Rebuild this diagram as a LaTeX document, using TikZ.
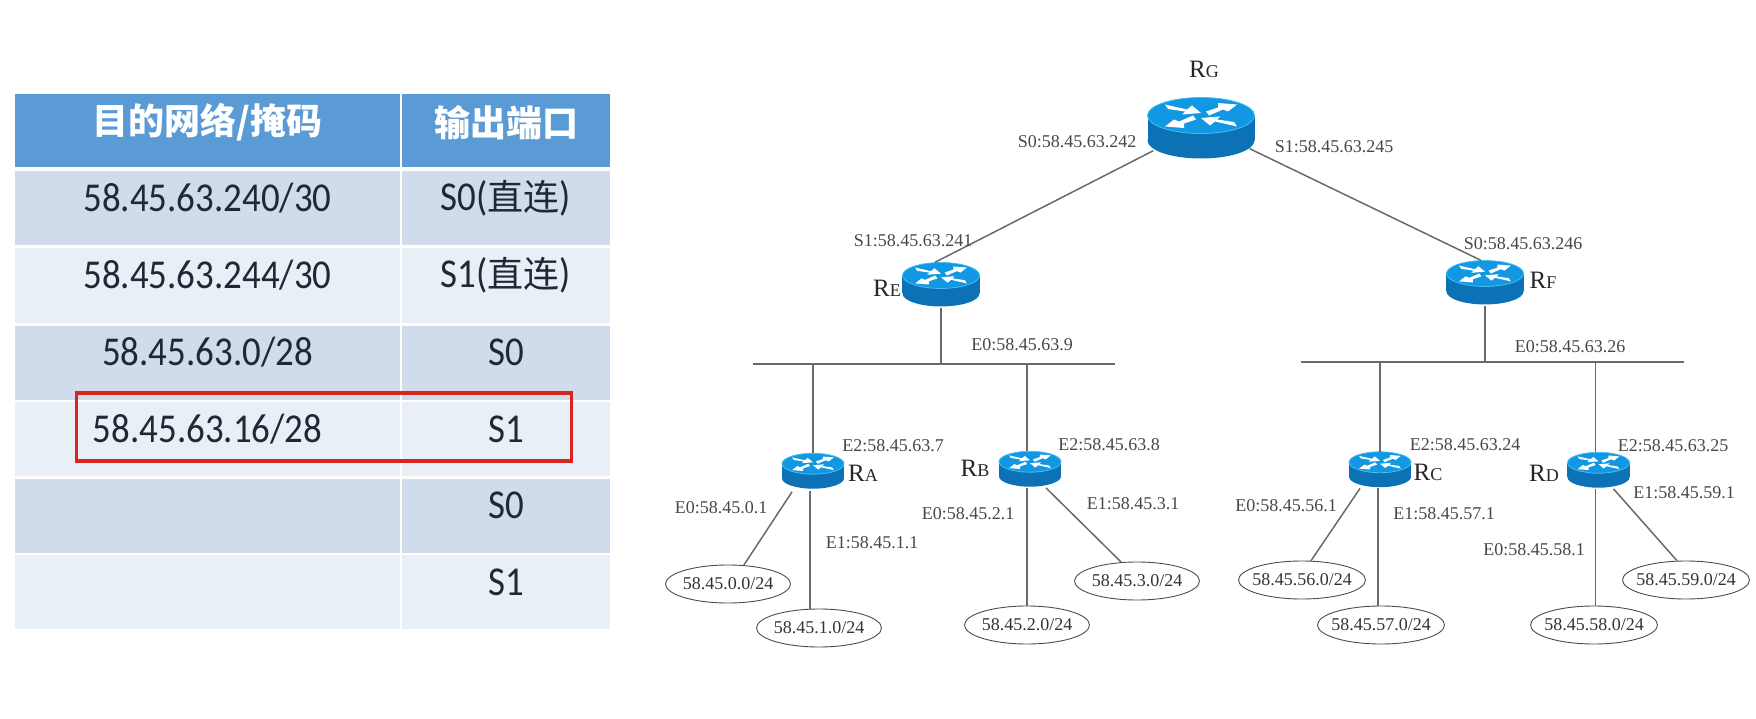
\documentclass[tikz,border=0pt]{standalone}
\usepackage{fontspec}
\usepackage{xcolor}
\usepackage{tikz}
\usetikzlibrary{shapes.geometric}
\setmainfont{Liberation Serif}
\newfontfamily\cjk{Noto Sans CJK SC}
\newfontfamily\tabfont[FakeStretch=0.9]{Carlito}

\definecolor{headblue}{HTML}{5B9BD5}
\definecolor{rowdark}{HTML}{D0DBEB}
\definecolor{rowlight}{HTML}{E9EFF7}
\definecolor{tabtext}{HTML}{1F2833}
\definecolor{marked}{HTML}{D8261C}
\definecolor{routertop}{HTML}{1298E2}
\definecolor{routeredge}{HTML}{45BDF4}
\definecolor{routerside}{HTML}{0D71B5}
\definecolor{wire}{HTML}{6A6A6A}

\tikzset{
  cell/.style={inner sep=0pt, minimum height=74},
  headcell/.style={cell, fill=headblue, minimum height=73},
  celltext/.style={inner sep=0pt, text=tabtext, font=\tabfont\fontsize{41}{43}\selectfont},
  headtext/.style={inner sep=0pt, text=white, font=\cjk\bfseries\fontsize{36}{38}\selectfont},
  routerbox/.style={inner sep=0pt, minimum width=107*#1, minimum height=61*#1},
  subnet/.style={draw=black!70, ellipse, inner sep=0pt, minimum width=125, minimum height=38, line width=0.9pt},
  longnet/.style={subnet, minimum width=127},
  every label/.style={inner sep=0pt, font=\fontsize{18}{20}\selectfont, text=black!80},
  portlabel/.style={inner sep=0pt, font=\fontsize{18}{20}\selectfont, text=black!72},
  rname/.style={inner sep=0pt, font=\fontsize{25}{27}\selectfont, text=black!85},
  wireline/.style={draw=wire, line width=1.5pt}
}

% small caps by hand for the router letter
\newcommand{\rletter}[1]{R{\fontsize{18}{20}\selectfont #1}}

% router: name, centre, scale
\newcommand{\routerat}[3]{
  \node[routerbox=#3] (#1) at (#2) {};
  \begin{scope}[shift={(#2)}, scale=#3]
    \fill[routerside] (0,12.5) ellipse [x radius=53.5pt, y radius=18pt];
    \fill[routerside] (-53.5,-12.5) rectangle (53.5,12.5);
    \filldraw[fill=routertop, draw=routeredge, line width=0.8pt] (0,-12.5) ellipse [x radius=53.5pt, y radius=18pt];
    \foreach \sx in {1,-1} {
      \begin{scope}[shift={(0,-12.5)}, xscale=\sx, yscale=\sx]
        \fill[white] (-36,-11) -- (-14,-6) -- (-9,-10) -- (0,-2.5) -- (-19,-1) -- (-16,-4) -- (-33,-6.5) -- cycle;
        \fill[white] (5,-4) -- (17,-8) -- (17,-12.5) -- (36,-11) -- (27,-4) -- (22,-6) -- (8,0) -- cycle;
      \end{scope}
    }
  \end{scope}
}

\begin{document}
\begin{tikzpicture}[x=1pt, y=-1pt]
\useasboundingbox (0,0) rectangle (1756,719);

% table cells
\node[headcell, minimum width=385] (h1) at (207.5,130.5) {};
\node[headcell, minimum width=208] (h2) at (506,130.5) {};
\node[cell, fill=rowdark, minimum width=385] (a1) at (207.5,208) {};
\node[cell, fill=rowdark, minimum width=208] (a2) at (506,208) {};
\node[cell, fill=rowlight, minimum width=385] (b1) at (207.5,285.5) {};
\node[cell, fill=rowlight, minimum width=208] (b2) at (506,285.5) {};
\node[cell, fill=rowdark, minimum width=385] (c1) at (207.5,362.5) {};
\node[cell, fill=rowdark, minimum width=208] (c2) at (506,362.5) {};
\node[cell, fill=rowlight, minimum width=385] (d1) at (207.5,439) {};
\node[cell, fill=rowlight, minimum width=208] (d2) at (506,439) {};
\node[cell, fill=rowdark, minimum width=385] (e1) at (207.5,515.5) {};
\node[cell, fill=rowdark, minimum width=208] (e2) at (506,515.5) {};
\node[cell, fill=rowlight, minimum width=385] (f1) at (207.5,592) {};
\node[cell, fill=rowlight, minimum width=208] (f2) at (506,592) {};

% table text sits above the middle of each row
\node[headtext] (h1t) at ([yshift=8pt]h1.center) {目的网络/掩码};
\node[headtext] (h2t) at ([yshift=8pt]h2.center) {输出端口};
\node[celltext] (a1t) at ([yshift=10pt]a1.center) {58.45.63.240/30};
\node[celltext] (a2t) at ([yshift=10pt]a2.center) {S0({\cjk\fontsize{36}{38}\selectfont 直连})};
\node[celltext] (b1t) at ([yshift=10pt]b1.center) {58.45.63.244/30};
\node[celltext] (b2t) at ([yshift=10pt]b2.center) {S1({\cjk\fontsize{36}{38}\selectfont 直连})};
\node[celltext] (c1t) at ([yshift=10pt]c1.center) {58.45.63.0/28};
\node[celltext] (c2t) at ([yshift=10pt]c2.center) {S0};
\node[celltext] (d1t) at ([yshift=10pt]d1.center) {58.45.63.16/28};
\node[celltext] (d2t) at ([yshift=10pt]d2.center) {S1};
\node[celltext] (e2t) at ([yshift=10pt]e2.center) {S0};
\node[celltext] (f2t) at ([yshift=10pt]f2.center) {S1};

% red frame on the fourth row
\node[draw=marked, line width=3.6pt, inner sep=0pt, minimum width=495, minimum height=68] (mark) at (324,427) {};

% routers
\routerat{rg}{1201,128}{1}
\routerat{re}{941,284.5}{0.72}
\routerat{rf}{1485,282.5}{0.72}
\routerat{ra}{813,471}{0.58}
\routerat{rb}{1030,469}{0.58}
\routerat{rc}{1380,469.5}{0.58}
\routerat{rd}{1598.5,470}{0.58}

% router letters
\node[rname] (rgname) at (1204,69) {\rletter{G}};
\node[rname] (rename) at (887,288) {\rletter{E}};
\node[rname] (rfname) at (1543,280) {\rletter{F}};
\node[rname] (raname) at (863,473) {\rletter{A}};
\node[rname] (rbname) at (975,468) {\rletter{B}};
\node[rname] (rcname) at (1428,472) {\rletter{C}};
\node[rname] (rdname) at (1544,473) {\rletter{D}};

% subnets
\node[subnet, label=center:58.45.0.0/24] (a0net) at (728,584) {};
\node[subnet, label=center:58.45.1.0/24] (a1net) at (819,628) {};
\node[subnet, label=center:58.45.2.0/24] (b0net) at (1027,625) {};
\node[subnet, label=center:58.45.3.0/24] (b1net) at (1137,581) {};
\node[longnet, label=center:58.45.56.0/24] (c0net) at (1302,580) {};
\node[longnet, label=center:58.45.57.0/24] (c1net) at (1381,625) {};
\node[longnet, label=center:58.45.58.0/24] (d0net) at (1594,625) {};
\node[longnet, label=center:58.45.59.0/24] (d1net) at (1686,580) {};

% the two shared segments
\coordinate (busl1) at (753,364);
\coordinate (busl2) at (1115,364);
\coordinate (busr1) at (1301,362);
\coordinate (busr2) at (1684,362);
\draw[wireline] (busl1) -- (busl2);
\draw[wireline, line width=2pt] (busr1) -- (busr2);

% links
\draw[wireline] ([xshift=6pt,yshift=8pt]rg.south west) -- ([xshift=-6pt]re.north);
\draw[wireline] ([xshift=-5pt,yshift=10pt]rg.south east) -- ([xshift=-4pt]rf.north);
\draw[wireline] ([yshift=-1pt]re.south) -- (re.south |- busl1);
\draw[wireline] ([yshift=-1pt]rf.south) -- (rf.south |- busr1);
\draw[wireline] (ra.north |- busl1) -- (ra.north);
\draw[wireline] ([xshift=-3pt]rb.north |- busl1) -- ([xshift=-3pt]rb.north);
\draw[wireline] (rc.north |- busr1) -- (rc.north);
\draw[wireline] ([xshift=-3pt]rd.north |- busr1) -- ([xshift=-3pt]rd.north);
\draw[wireline] ([xshift=-21pt,yshift=-3pt]ra.south) -- (a0net.50);
\draw[wireline] ([xshift=-3pt,yshift=-2pt]ra.south) -- ([xshift=-3pt]ra.south |- a1net.north);
\draw[wireline] ([xshift=-3pt,yshift=-1pt]rb.south) -- ([xshift=-3pt]rb.south |- b0net.north);
\draw[wireline] ([xshift=16pt,yshift=-1pt]rb.south) -- (b1net.130);
\draw[wireline] ([xshift=-20pt,yshift=-1pt]rc.south) -- (c0net.65);
\draw[wireline] ([xshift=-2pt,yshift=-1pt]rc.south) -- ([xshift=-2pt]rc.south |- c1net.north);
\draw[wireline] ([xshift=-3pt,yshift=-1pt]rd.south) -- ([xshift=-3pt]rd.south |- d0net.north);
\draw[wireline] ([xshift=15pt,yshift=-1pt]rd.south) -- (d1net.115);

% port addresses
\node[portlabel] (gs0) at (1077,142) {S0:58.45.63.242};
\node[portlabel] (gs1) at (1334,147) {S1:58.45.63.245};
\node[portlabel] (es1) at (913,241) {S1:58.45.63.241};
\node[portlabel] (fs0) at (1523,244) {S0:58.45.63.246};
\node[portlabel] (ee0) at (1022,345) {E0:58.45.63.9};
\node[portlabel] (fe0) at (1570,347) {E0:58.45.63.26};
\node[portlabel] (ae2) at (893,446) {E2:58.45.63.7};
\node[portlabel] (be2) at (1109,445) {E2:58.45.63.8};
\node[portlabel] (ce2) at (1465,445) {E2:58.45.63.24};
\node[portlabel] (de2) at (1673,446) {E2:58.45.63.25};
\node[portlabel] (ae0) at (721,508) {E0:58.45.0.1};
\node[portlabel] (ae1) at (872,543) {E1:58.45.1.1};
\node[portlabel] (be0) at (968,514) {E0:58.45.2.1};
\node[portlabel] (be1) at (1133,504) {E1:58.45.3.1};
\node[portlabel] (ce0) at (1286,506) {E0:58.45.56.1};
\node[portlabel] (ce1) at (1444,514) {E1:58.45.57.1};
\node[portlabel] (de0) at (1534,550) {E0:58.45.58.1};
\node[portlabel] (de1) at (1684,493) {E1:58.45.59.1};
\end{tikzpicture}
\end{document}
